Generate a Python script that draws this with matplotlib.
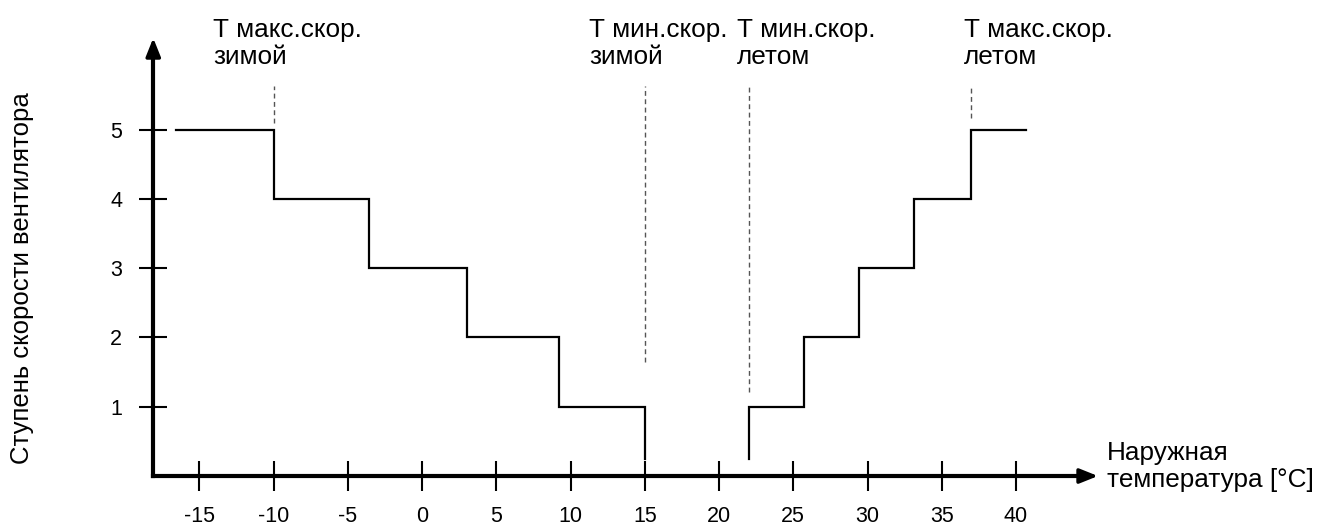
import numpy as np
import matplotlib
matplotlib.use("Agg")
import matplotlib.pyplot as plt

plt.rcParams['font.family'] = ['Liberation Sans', 'DejaVu Sans']

# ---- data ----
x_ticks = [-15, -10, -5, 0, 5, 10, 15, 20, 25, 30, 35, 40]
y_ticks = [1, 2, 3, 4, 5]

winter_edges = [-16.6, -10.0, -3.6, 3.0, 9.2, 15.0]
winter_levels = [5, 4, 3, 2, 1]
winter_end = 0.25

summer_edges = [22.0, 25.7, 29.4, 33.1, 37.0, 40.7]
summer_levels = [1, 2, 3, 4, 5]
summer_start = 0.25

marker_temps = [-10.0, 15.0, 22.0, 37.0]
marker_bottoms = [5.1, 1.65, 1.21, 5.17]
marker_top = 5.63
marker_labels = ["Т макс.скор.\nзимой", "Т мин.скор.\nзимой",
                 "Т мин.скор.\nлетом", "Т макс.скор.\nлетом"]
label_x = [-14.07, 11.25, 21.2, 36.5]

x_label = "Наружная\nтемпература [°C]"
y_label = "Ступень скорости вентилятора"

# ---- figure ----
fig = plt.figure(figsize=(13.2, 5.28), dpi=100)
ax = fig.add_axes([0, 0, 1, 1])
ax.set_xlim(-28.42, 60.47)
ax.set_ylim(-0.750, 6.869)

x0 = -18.1
x_tip = 45.52
y_tip = 6.32

for s in ['top', 'right']:
    ax.spines[s].set_visible(False)
ax.spines['bottom'].set_position(('data', 0))
ax.spines['left'].set_position(('data', x0))
ax.spines['bottom'].set_bounds(x0, x_tip - 1.0)
ax.spines['left'].set_bounds(0, y_tip - 0.2)
for s in ['bottom', 'left']:
    ax.spines[s].set_linewidth(3)
    ax.spines[s].set_capstyle('projecting')

# arrow heads
ax.annotate('', xy=(x_tip, 0), xytext=(x_tip - 1.5, 0),
            arrowprops=dict(arrowstyle='-|>,head_length=0.55,head_width=0.22',
                            lw=2.5, color='k', mutation_scale=20,
                            shrinkA=0, shrinkB=0))
ax.annotate('', xy=(x0, y_tip), xytext=(x0, y_tip - 0.3),
            arrowprops=dict(arrowstyle='-|>,head_length=0.55,head_width=0.22',
                            lw=2.5, color='k', mutation_scale=20,
                            shrinkA=0, shrinkB=0))

ax.set_xticks(x_ticks)
ax.set_xticklabels([str(v) for v in x_ticks])
ax.set_yticks(y_ticks)
ax.set_yticklabels([str(v) for v in y_ticks])
ax.tick_params(axis='x', direction='inout', length=21.6, width=1.5,
               pad=11, labelsize=15.5)
ax.tick_params(axis='y', direction='inout', length=20, width=1.5,
               pad=12.5, labelsize=15.5)

# winter steps
wx = np.repeat(winter_edges, 2)[1:-1]
wy = np.repeat(winter_levels, 2)
wx = np.append(wx, winter_edges[-1])
wy = np.append(wy, winter_end)
ax.plot(wx, wy, color='k', lw=1.6, solid_joinstyle='miter')

# summer steps
sx = np.repeat(summer_edges, 2)[:-1]
sy = np.concatenate([[summer_start], np.repeat(summer_levels, 2)])
ax.plot(sx, sy, color='k', lw=1.6, solid_joinstyle='miter')

# dashed markers
for t, b in zip(marker_temps, marker_bottoms):
    ax.plot([t, t], [b, marker_top], color='#555555', lw=1,
            linestyle=(0, (3.5, 2.5)))

for lx, txt in zip(label_x, marker_labels):
    ax.text(lx, 6.24, txt, ha='left', va='center', fontsize=18.8,
            linespacing=1.15)

ax.text(46.13, 0.137, x_label, ha='left', va='center', fontsize=18.8,
        linespacing=1.15)

fig.text(22 / 1320, 1 - 278 / 528, y_label, rotation=90, ha='center',
         va='center', fontsize=18.5)

fig.savefig('out.png', dpi=100)
